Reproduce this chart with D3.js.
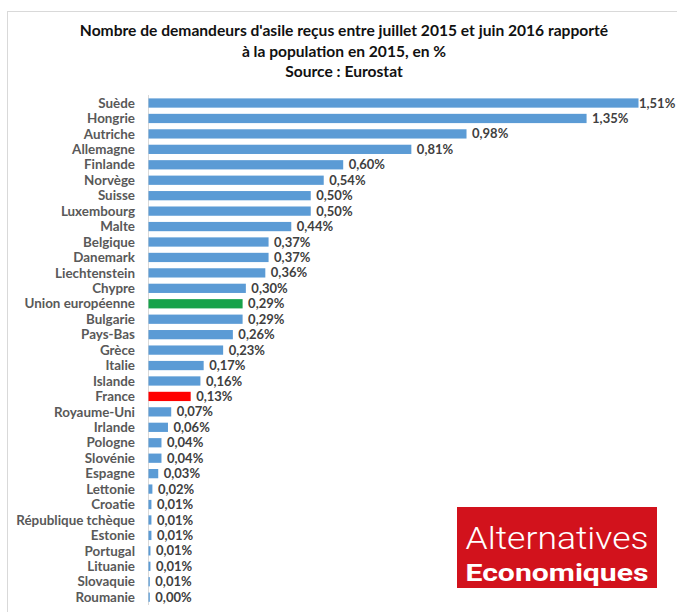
<!DOCTYPE html>
<html><head><meta charset="utf-8">
<script src="https://cdn.jsdelivr.net/npm/d3@7"></script>
<style>body{margin:0;background:#fff}svg{display:block}</style>
</head><body>
<script>
const categories = ["Suède","Hongrie","Autriche","Allemagne","Finlande","Norvège","Suisse","Luxembourg","Malte","Belgique","Danemark","Liechtenstein","Chypre","Union européenne","Bulgarie","Pays-Bas","Grèce","Italie","Islande","France","Royaume-Uni","Irlande","Pologne","Slovénie","Espagne","Lettonie","Croatie","République tchèque","Estonie","Portugal","Lituanie","Slovaquie","Roumanie"];
const values = [1.51,1.35,0.98,0.81,0.60,0.54,0.50,0.50,0.44,0.37,0.37,0.36,0.30,0.29,0.29,0.26,0.23,0.17,0.16,0.13,0.07,0.06,0.04,0.04,0.03,0.02,0.01,0.01,0.01,0.01,0.01,0.01,0.00];
const barWidthsTiny = [0.012,0.009,0.009,0.009,0.006,0.006,0.004,0.004]; // finer estimates for the 0.01-level bars (last rows)
const titleLines = ["Nombre de demandeurs d'asile reçus entre juillet 2015 et juin 2016 rapporté","à la population en 2015, en %","Source : Eurostat"];
const highlight = {"Union européenne":"#17a24a","France":"#ff0000"};

const W=677,H=612;
const svg=d3.select("body").append("svg").attr("width",W).attr("height",H);
svg.append("line").attr("x1",7.5).attr("x2",7.5).attr("y1",11).attr("y2",H).attr("stroke","#d9d9d9");
svg.append("line").attr("x1",7).attr("x2",W).attr("y1",11.5).attr("y2",11.5).attr("stroke","#d9d9d9");

const font="Lato, 'Open Sans', sans-serif";
svg.selectAll("text.title").data(titleLines).enter().append("text")
  .attr("x",344).attr("y",(d,i)=>36+i*20.5).attr("text-anchor","middle")
  .attr("font-family",font).attr("font-weight","bold").attr("font-size",15.6).attr("fill","#111")
  .text(d=>d);

const x=d3.scaleLinear().domain([0,1.51]).range([148,638]);
const y=d3.scaleBand().domain(categories).range([95.3,604.9]).paddingInner(0.4).paddingOuter(0.2);

svg.append("line").attr("x1",148.5).attr("x2",148.5).attr("y1",95).attr("y2",605).attr("stroke","#d9d9d9");

const n=categories.length;
function vis(d,i){ const k=i-(n-barWidthsTiny.length); return k>=0?barWidthsTiny[k]:d; }
svg.selectAll("rect.bar").data(values).enter().append("rect")
  .attr("x",x(0)+0.5).attr("y",(d,i)=>y(categories[i]))
  .attr("width",(d,i)=>Math.max(0.8,x(vis(d,i))-x(0)))
  .attr("height",y.bandwidth())
  .attr("fill",(d,i)=>highlight[categories[i]]||"#5b9bd5");

svg.selectAll("text.cat").data(categories).enter().append("text")
  .attr("x",135).attr("y",d=>y(d)+y.bandwidth()/2).attr("dy","0.35em")
  .attr("text-anchor","end").attr("font-family",font).attr("font-weight","bold")
  .attr("font-size",13.4).attr("fill","#595959").text(d=>d);

svg.selectAll("text.val").data(values).enter().append("text")
  .attr("x",(d,i)=>Math.min(x(vis(d,i))+6,W-38)).attr("y",(d,i)=>y(categories[i])+y.bandwidth()/2).attr("dy","0.35em")
  .attr("font-family",font).attr("font-weight","bold")
  .attr("font-size",13).attr("fill","#404040").text(d=>d.toFixed(2).replace(".",",")+"%");

const g=svg.append("g");
g.append("rect").attr("x",457).attr("y",507).attr("width",200).attr("height",81).attr("fill","#d2121c");
g.append("text").attr("x",557).attr("y",549).attr("text-anchor","middle").attr("font-family","Roboto, 'Open Sans', sans-serif")
  .attr("font-weight","300").attr("font-size",31).attr("fill","#fff").attr("textLength",183).attr("lengthAdjust","spacingAndGlyphs").text("Alternatives");
g.append("text").attr("x",557).attr("y",581).attr("text-anchor","middle").attr("font-family","Roboto, 'Open Sans', sans-serif")
  .attr("font-weight","bold").attr("font-size",24).attr("fill","#fff").attr("textLength",183).attr("lengthAdjust","spacingAndGlyphs").text("Economiques");
</script>
</body></html>
